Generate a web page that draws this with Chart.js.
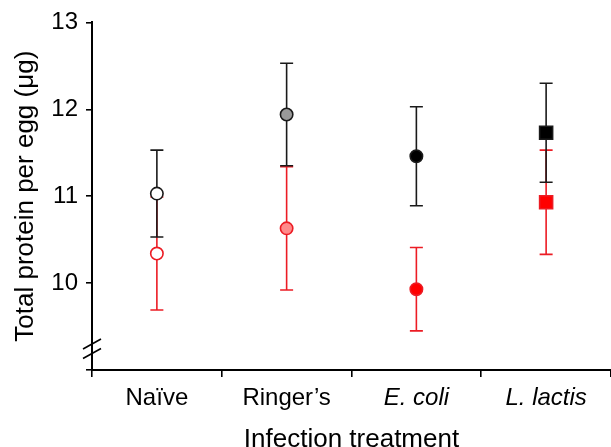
<!DOCTYPE html>
<html>
<head>
<meta charset="utf-8">
<script src="https://cdn.jsdelivr.net/npm/chart.js@4/dist/chart.umd.min.js"></script>
<style>
  body { margin: 0; background: #fff; }
</style>
</head>
<body>
<canvas id="proteinChart" width="611" height="447"></canvas>
<script>
// data
const treatments = ['Naïve', 'Ringer\u2019s', 'E. coli', 'L. lactis'];
const blackMeans = [11.03, 11.94, 11.46, 11.73];
const blackErr = [0.50, 0.59, 0.57, 0.57];
const redMeans = [10.34, 10.63, 9.93, 10.93];
const redErr = [0.65, 0.71, 0.48, 0.60];
const yTicks = [9, 10, 11, 12, 13];

const RED = '#ff0000';
const RED_LINE = '#ec1c24';
const FONT = 'Liberation Sans, Arial, Helvetica, sans-serif';

// error bars + axis break, drawn from the scales
const errorBars = {
    id: 'errorBars',
    beforeDatasetsDraw(chart) {
        const ctx = chart.ctx;
        const x = chart.scales.x, y = chart.scales.y;
        const sets = [[redMeans, redErr, RED_LINE], [blackMeans, blackErr, '#1a1a1a']];
        ctx.save();
        ctx.lineWidth = 1.6;
        sets.forEach(function (s) {
            ctx.strokeStyle = s[2];
            s[0].forEach(function (m, i) {
                const px = x.getPixelForValue(i);
                const top = y.getPixelForValue(m + s[1][i]);
                const bot = y.getPixelForValue(m - s[1][i]);
                ctx.beginPath();
                ctx.moveTo(px, top); ctx.lineTo(px, bot);
                ctx.moveTo(px - 6.5, top); ctx.lineTo(px + 6.5, top);
                ctx.moveTo(px - 6.5, bot); ctx.lineTo(px + 6.5, bot);
                ctx.stroke();
            });
        });
        ctx.restore();
    },
    afterDraw(chart) {
        const ctx = chart.ctx;
        const y = chart.scales.y;
        const left = chart.chartArea.left;
        ctx.save();
        ctx.strokeStyle = '#000';
        ctx.lineWidth = 1.6;
        [9.3, 9.19].forEach(function (v) {
            const py = y.getPixelForValue(v);
            ctx.beginPath();
            ctx.moveTo(left - 9, py + 5);
            ctx.lineTo(left + 9, py - 5);
            ctx.stroke();
        });
        ctx.restore();
    }
};

new Chart(document.getElementById('proteinChart'), {
    type: 'line',
    data: {
        labels: treatments,
        datasets: [{
            label: 'red',
            data: redMeans,
            showLine: false,
            pointStyle: ['circle', 'circle', 'circle', 'rect'],
            pointRadius: [6.2, 6.2, 6.2, 9.2],
            pointBackgroundColor: ['#ffffff', '#ff8a8a', RED, RED],
            pointBorderColor: RED_LINE,
            pointBorderWidth: 1.6
        }, {
            label: 'black',
            data: blackMeans,
            showLine: false,
            pointStyle: ['circle', 'circle', 'circle', 'rect'],
            pointRadius: [6.2, 6.2, 6.2, 9.2],
            pointBackgroundColor: ['#ffffff', '#9a9a9a', '#000000', '#000000'],
            pointBorderColor: '#1a1a1a',
            pointBorderWidth: 1.6
        }]
    },
    options: {
        responsive: false,
        animation: false,
        layout: { autoPadding: false, padding: { top: 20, right: -2, left: 0, bottom: 0 } },
        plugins: { legend: { display: false }, tooltip: { enabled: false } },
        scales: {
            x: {
                type: 'category',
                offset: true,
                grid: { offset: true, drawOnChartArea: false, drawTicks: true, tickLength: 7, color: '#000', lineWidth: 1.6 },
                border: { display: true, color: '#000', width: 2 },
                ticks: {
                    color: '#000',
                    padding: 7,
                    font: function (c) {
                        return { family: FONT, size: 24, style: c.index >= 2 ? 'italic' : 'normal' };
                    }
                },
                title: {
                    display: true,
                    text: 'Infection treatment',
                    color: '#000',
                    font: { family: FONT, size: 26 },
                    padding: { top: 0, bottom: -8 }
                },
                afterFit: function (s) { s.height = 77; s.paddingRight = 0; s.paddingLeft = 0; }
            },
            y: {
                min: 9,
                max: 13,
                afterBuildTicks: function (s) { s.ticks = yTicks.map(function (v) { return { value: v }; }); },
                grid: { drawOnChartArea: false, drawTicks: true, tickLength: 6, color: '#000', lineWidth: 1.6 },
                border: { display: true, color: '#000', width: 2 },
                ticks: {
                    color: '#000',
                    padding: 8,
                    font: { family: FONT, size: 24 },
                    callback: function (v) { return v === 9 ? '' : v; }
                },
                title: {
                    display: true,
                    text: 'Total protein per egg (\u03bcg)',
                    color: '#000',
                    font: { family: FONT, size: 26 },
                    padding: { top: 10, bottom: 0 }
                },
                afterFit: function (s) { s.width = 92; }
            }
        }
    },
    plugins: [errorBars]
});
</script>
</body>
</html>
